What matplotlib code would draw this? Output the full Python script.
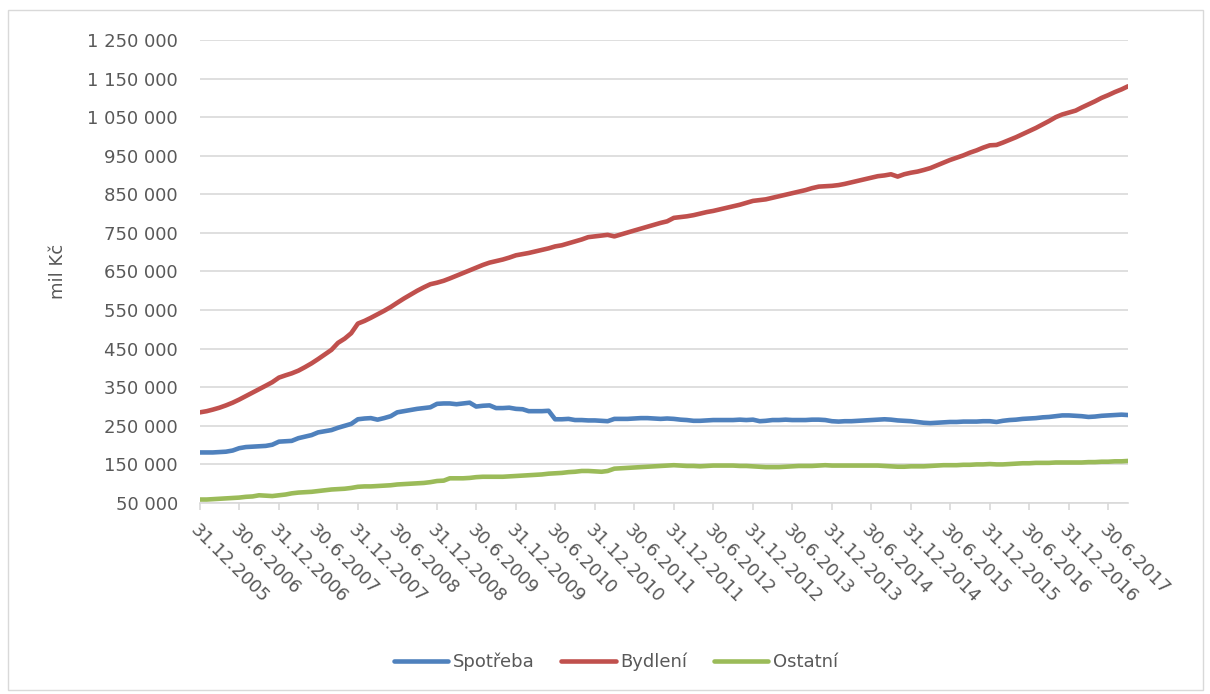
import matplotlib
matplotlib.use("Agg")
import matplotlib.pyplot as plt
from matplotlib.ticker import FuncFormatter
from matplotlib.patches import Rectangle
import numpy as np
import pandas as pd

# month-end balances, thousands of mil Kč; first value is 31.12.2005, then one row per year
spotreba = [181,
            181, 181, 182, 183, 186, 192, 195, 196, 197, 198, 201, 209,
            210, 211, 218, 222, 226, 233, 236, 239, 245, 250, 255, 267,
            269, 270, 266, 270, 275, 285, 288, 291, 294, 296, 298, 307,
            308, 308, 306, 308, 310, 300, 302, 303, 296, 296, 297, 294,
            293, 288, 288, 288, 289, 267, 267, 268, 265, 265, 264, 264,
            263, 262, 268, 268, 268, 269, 270, 270, 269, 268, 269, 268,
            266, 265, 263, 263, 264, 265, 265, 265, 265, 266, 265, 266,
            262, 263, 265, 265, 266, 265, 265, 265, 266, 266, 265, 262,
            261, 262, 262, 263, 264, 265, 266, 267, 266, 264, 263, 262,
            260, 258, 257, 258, 259, 260, 260, 261, 261, 261, 262, 262,
            260, 263, 265, 266, 268, 269, 270, 272, 273, 275, 277, 277,
            276, 275, 273, 274, 276, 277, 278, 279, 278]

bydleni = [285,
           288, 292, 297, 303, 310, 318, 327, 336, 345, 354, 363, 375,
           381, 386, 393, 402, 412, 423, 435, 447, 465, 476, 490, 515,
           522, 530, 539, 548, 558, 569, 580, 590, 600, 609, 617, 621,
           626, 632, 639, 646, 653, 660, 667, 673, 677, 681, 686, 692,
           695, 698, 702, 706, 710, 715, 718, 723, 728, 733, 739, 741,
           743, 745, 741, 746, 751, 756, 761, 766, 771, 776, 780, 789,
           791, 793, 796, 800, 804, 807, 811, 815, 819, 823, 828, 833,
           835, 837, 841, 845, 849, 853, 857, 861, 866, 870, 871, 872,
           874, 877, 881, 885, 889, 893, 897, 899, 902, 896, 902, 906,
           909, 913, 918, 925, 932, 939, 945, 951, 958, 964, 971, 977,
           978, 984, 991, 998, 1006, 1014, 1022, 1031, 1040, 1050, 1057, 1062,
           1067, 1075, 1083, 1091, 1100, 1107, 1115, 1122, 1130]

ostatni = [59,
           59, 60, 61, 62, 63, 64, 66, 67, 70, 69, 68, 70,
           72, 75, 77, 78, 79, 81, 83, 85, 86, 87, 89, 92,
           93, 93, 94, 95, 96, 98, 99, 100, 101, 102, 104, 107,
           108, 114, 114, 114, 115, 117, 118, 118, 118, 118, 119, 120,
           121, 122, 123, 124, 126, 127, 128, 130, 131, 133, 133, 132,
           131, 133, 139, 140, 141, 142, 143, 144, 145, 146, 147, 148,
           147, 146, 146, 145, 146, 147, 147, 147, 147, 146, 146, 145,
           144, 143, 143, 143, 144, 145, 146, 146, 146, 147, 148, 147,
           147, 147, 147, 147, 147, 147, 147, 146, 145, 144, 144, 145,
           145, 145, 146, 147, 148, 148, 148, 149, 149, 150, 150, 151,
           150, 150, 151, 152, 153, 153, 154, 154, 154, 155, 155, 155,
           155, 155, 156, 156, 157, 157, 158, 158, 159]

series = [("Spotřeba", spotreba, "#4f81bd"),
          ("Bydlení", bydleni, "#c0504d"),
          ("Ostatní", ostatni, "#9bbb59")]

y_ticks = np.arange(50000, 1250001, 100000)

dates = pd.date_range("2005-12-31", periods=len(bydleni), freq="ME")
tick_dates = dates[::6]

text_col = "#595959"
grid_col = "#d9d9d9"
plt.rcParams["font.family"] = ["DejaVu Sans"]
plt.rcParams["font.size"] = 13

fig = plt.figure(figsize=(12.1, 6.94), dpi=100)
ax = fig.add_axes([200 / 1210, 1 - 503 / 694, 928 / 1210, 463 / 694])

for name, vals, col in series:
    ax.plot(dates, np.array(vals) * 1000, color=col, lw=3.3, label=name,
            solid_joinstyle="round", solid_capstyle="round")

ax.set_xlim(dates[0], dates[-1])
ax.set_ylim(y_ticks[0], y_ticks[-1])
ax.set_yticks(y_ticks)
ax.yaxis.set_major_formatter(FuncFormatter(lambda v, p: f"{v:,.0f}".replace(",", " ")))
ax.grid(axis="y", color=grid_col, lw=1.2)
ax.set_axisbelow(True)

ax.set_xticks(tick_dates)
ax.set_xticklabels([f"{d.day}.{d.month}.{d.year}" for d in tick_dates],
                   rotation=-45, ha="left", va="top", rotation_mode="anchor")

for s in ["top", "right", "left"]:
    ax.spines[s].set_visible(False)
ax.spines["bottom"].set_color(grid_col)
ax.spines["bottom"].set_linewidth(1.2)
ax.tick_params(axis="x", colors=grid_col, labelcolor=text_col, length=5, width=1.2, pad=8)
ax.tick_params(axis="y", length=0, labelcolor=text_col, pad=16)

ax.set_ylabel("mil Kč", color=text_col, labelpad=14)

leg = ax.legend(loc="center", bbox_to_anchor=(616 / 1210, 1 - 662 / 694),
                bbox_transform=fig.transFigure, ncol=3, frameon=False,
                handlelength=3.0, handletextpad=0.25, columnspacing=1.5)
for t in leg.get_texts():
    t.set_color(text_col)

fig.patches.append(Rectangle((8 / 1210, 1 - 690 / 694), 1195 / 1210, 680 / 694,
                             transform=fig.transFigure, fill=False,
                             edgecolor=grid_col, lw=1))

fig.savefig("out.png", dpi=100)
